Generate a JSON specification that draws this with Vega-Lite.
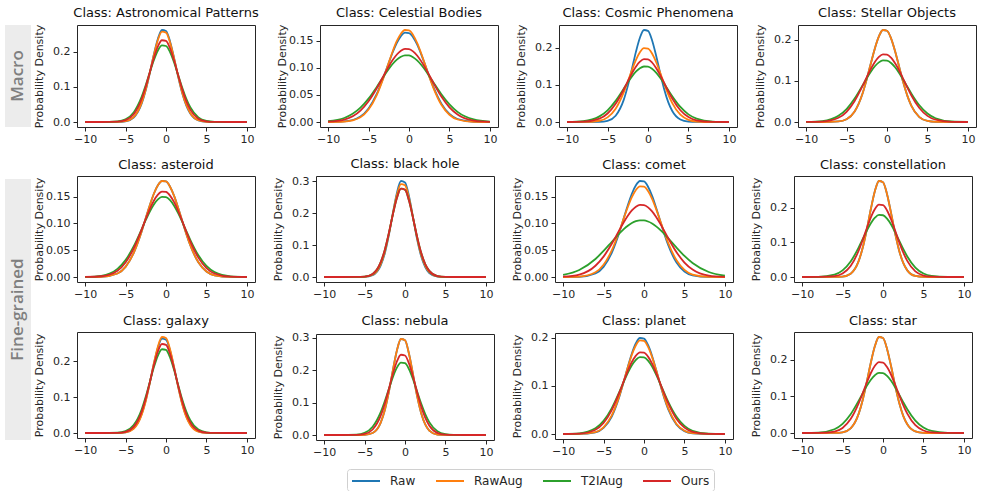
{
"$schema": "https://vega.github.io/schema/vega-lite/v6.json",
"background": "white",
"padding": {"left": 5, "top": 6, "right": 0, "bottom": 0},
"data": {"values": [
{"c":"Astronomical Patterns","x":-10,"Raw":0,"RawAug":0,"T2IAug":0,"Ours":0},
{"c":"Astronomical Patterns","x":-8,"Raw":0,"RawAug":0,"T2IAug":0,"Ours":0},
{"c":"Astronomical Patterns","x":-6,"Raw":0.0002,"RawAug":0.0003,"T2IAug":0.0016,"Ours":0.0008},
{"c":"Astronomical Patterns","x":-5,"Raw":0.0020,"RawAug":0.0024,"T2IAug":0.0077,"Ours":0.0051},
{"c":"Astronomical Patterns","x":-4,"Raw":0.0129,"RawAug":0.0142,"T2IAug":0.0274,"Ours":0.0219},
{"c":"Astronomical Patterns","x":-3,"Raw":0.0531,"RawAug":0.0553,"T2IAug":0.0726,"Ours":0.0663},
{"c":"Astronomical Patterns","x":-2.5,"Raw":0.0911,"RawAug":0.0930,"T2IAug":0.1054,"Ours":0.1015},
{"c":"Astronomical Patterns","x":-2,"Raw":0.1401,"RawAug":0.1407,"T2IAug":0.1418,"Ours":0.1423},
{"c":"Astronomical Patterns","x":-1.5,"Raw":0.1929,"RawAug":0.1915,"T2IAug":0.1767,"Ours":0.1830},
{"c":"Astronomical Patterns","x":-1,"Raw":0.2378,"RawAug":0.2343,"T2IAug":0.2042,"Ours":0.2158},
{"c":"Astronomical Patterns","x":-0.5,"Raw":0.2627,"RawAug":0.2578,"T2IAug":0.2187,"Ours":0.2334},
{"c":"Astronomical Patterns","x":0,"Raw":0.2598,"RawAug":0.2551,"T2IAug":0.2170,"Ours":0.2314},
{"c":"Astronomical Patterns","x":0.5,"Raw":0.2301,"RawAug":0.2270,"T2IAug":0.1996,"Ours":0.2103},
{"c":"Astronomical Patterns","x":1,"Raw":0.1825,"RawAug":0.1816,"T2IAug":0.1701,"Ours":0.1753},
{"c":"Astronomical Patterns","x":1.5,"Raw":0.1297,"RawAug":0.1307,"T2IAug":0.1344,"Ours":0.1340},
{"c":"Astronomical Patterns","x":2,"Raw":0.0825,"RawAug":0.0845,"T2IAug":0.0984,"Ours":0.0939},
{"c":"Astronomical Patterns","x":2.5,"Raw":0.0470,"RawAug":0.0492,"T2IAug":0.0668,"Ours":0.0603},
{"c":"Astronomical Patterns","x":3,"Raw":0.0240,"RawAug":0.0257,"T2IAug":0.0420,"Ours":0.0355},
{"c":"Astronomical Patterns","x":4,"Raw":0.0045,"RawAug":0.0051,"T2IAug":0.0132,"Ours":0.0095},
{"c":"Astronomical Patterns","x":5,"Raw":0.0005,"RawAug":0.0007,"T2IAug":0.0031,"Ours":0.0018},
{"c":"Astronomical Patterns","x":6,"Raw":0,"RawAug":0.0001,"T2IAug":0.0005,"Ours":0.0002},
{"c":"Astronomical Patterns","x":8,"Raw":0,"RawAug":0,"T2IAug":0,"Ours":0},
{"c":"Astronomical Patterns","x":10,"Raw":0,"RawAug":0,"T2IAug":0,"Ours":0},
{"c":"Celestial Bodies","x":-10,"Raw":0.0001,"RawAug":0,"T2IAug":0.0014,"Ours":0.0006},
{"c":"Celestial Bodies","x":-8,"Raw":0.0010,"RawAug":0.0008,"T2IAug":0.0073,"Ours":0.0045},
{"c":"Celestial Bodies","x":-6,"Raw":0.0102,"RawAug":0.0089,"T2IAug":0.0263,"Ours":0.0210},
{"c":"Celestial Bodies","x":-5,"Raw":0.0249,"RawAug":0.0229,"T2IAug":0.0430,"Ours":0.0381},
{"c":"Celestial Bodies","x":-4,"Raw":0.0512,"RawAug":0.0491,"T2IAug":0.0642,"Ours":0.0616},
{"c":"Celestial Bodies","x":-3,"Raw":0.0885,"RawAug":0.0877,"T2IAug":0.0870,"Ours":0.0889},
{"c":"Celestial Bodies","x":-2.5,"Raw":0.1091,"RawAug":0.1095,"T2IAug":0.0977,"Ours":0.1023},
{"c":"Celestial Bodies","x":-2,"Raw":0.1289,"RawAug":0.1308,"T2IAug":0.1072,"Ours":0.1144},
{"c":"Celestial Bodies","x":-1.5,"Raw":0.1459,"RawAug":0.1492,"T2IAug":0.1149,"Ours":0.1243},
{"c":"Celestial Bodies","x":-1,"Raw":0.1582,"RawAug":0.1626,"T2IAug":0.1202,"Ours":0.1313},
{"c":"Celestial Bodies","x":-0.5,"Raw":0.1644,"RawAug":0.1694,"T2IAug":0.1228,"Ours":0.1347},
{"c":"Celestial Bodies","x":0,"Raw":0.1637,"RawAug":0.1686,"T2IAug":0.1225,"Ours":0.1343},
{"c":"Celestial Bodies","x":0.5,"Raw":0.1562,"RawAug":0.1604,"T2IAug":0.1193,"Ours":0.1301},
{"c":"Celestial Bodies","x":1,"Raw":0.1428,"RawAug":0.1458,"T2IAug":0.1135,"Ours":0.1225},
{"c":"Celestial Bodies","x":1.5,"Raw":0.1251,"RawAug":0.1267,"T2IAug":0.1054,"Ours":0.1121},
{"c":"Celestial Bodies","x":2,"Raw":0.1050,"RawAug":0.1052,"T2IAug":0.0957,"Ours":0.0997},
{"c":"Celestial Bodies","x":2.5,"Raw":0.0844,"RawAug":0.0834,"T2IAug":0.0847,"Ours":0.0862},
{"c":"Celestial Bodies","x":3,"Raw":0.0650,"RawAug":0.0633,"T2IAug":0.0733,"Ours":0.0724},
{"c":"Celestial Bodies","x":4,"Raw":0.0339,"RawAug":0.0317,"T2IAug":0.0511,"Ours":0.0468},
{"c":"Celestial Bodies","x":5,"Raw":0.0149,"RawAug":0.0133,"T2IAug":0.0324,"Ours":0.0270},
{"c":"Celestial Bodies","x":6,"Raw":0.0055,"RawAug":0.0046,"T2IAug":0.0186,"Ours":0.0139},
{"c":"Celestial Bodies","x":8,"Raw":0.0005,"RawAug":0.0003,"T2IAug":0.0047,"Ours":0.0026},
{"c":"Celestial Bodies","x":10,"Raw":0,"RawAug":0,"T2IAug":0.0008,"Ours":0.0003},
{"c":"Cosmic Phenomena","x":-10,"Raw":0,"RawAug":0,"T2IAug":0.0002,"Ours":0},
{"c":"Cosmic Phenomena","x":-8,"Raw":0,"RawAug":0.0001,"T2IAug":0.0023,"Ours":0.0008},
{"c":"Cosmic Phenomena","x":-6,"Raw":0.0004,"RawAug":0.0034,"T2IAug":0.0151,"Ours":0.0089},
{"c":"Cosmic Phenomena","x":-5,"Raw":0.0033,"RawAug":0.0125,"T2IAug":0.0315,"Ours":0.0229},
{"c":"Cosmic Phenomena","x":-4,"Raw":0.0170,"RawAug":0.0358,"T2IAug":0.0570,"Ours":0.0491},
{"c":"Cosmic Phenomena","x":-3,"Raw":0.0597,"RawAug":0.0800,"T2IAug":0.0896,"Ours":0.0877},
{"c":"Cosmic Phenomena","x":-2.5,"Raw":0.0967,"RawAug":0.1089,"T2IAug":0.1065,"Ours":0.1095},
{"c":"Cosmic Phenomena","x":-2,"Raw":0.1417,"RawAug":0.1391,"T2IAug":0.1223,"Ours":0.1308},
{"c":"Cosmic Phenomena","x":-1.5,"Raw":0.1884,"RawAug":0.1669,"T2IAug":0.1355,"Ours":0.1492},
{"c":"Cosmic Phenomena","x":-1,"Raw":0.2271,"RawAug":0.1881,"T2IAug":0.1449,"Ours":0.1626},
{"c":"Cosmic Phenomena","x":-0.5,"Raw":0.2480,"RawAug":0.1990,"T2IAug":0.1496,"Ours":0.1694},
{"c":"Cosmic Phenomena","x":0,"Raw":0.2456,"RawAug":0.1978,"T2IAug":0.1490,"Ours":0.1686},
{"c":"Cosmic Phenomena","x":0.5,"Raw":0.2205,"RawAug":0.1845,"T2IAug":0.1434,"Ours":0.1604},
{"c":"Cosmic Phenomena","x":1,"Raw":0.1794,"RawAug":0.1617,"T2IAug":0.1331,"Ours":0.1458},
{"c":"Cosmic Phenomena","x":1.5,"Raw":0.1323,"RawAug":0.1331,"T2IAug":0.1193,"Ours":0.1267},
{"c":"Cosmic Phenomena","x":2,"Raw":0.0885,"RawAug":0.1029,"T2IAug":0.1032,"Ours":0.1052},
{"c":"Cosmic Phenomena","x":2.5,"Raw":0.0536,"RawAug":0.0747,"T2IAug":0.0862,"Ours":0.0834},
{"c":"Cosmic Phenomena","x":3,"Raw":0.0295,"RawAug":0.0509,"T2IAug":0.0695,"Ours":0.0633},
{"c":"Cosmic Phenomena","x":4,"Raw":0.0066,"RawAug":0.0196,"T2IAug":0.0406,"Ours":0.0317},
{"c":"Cosmic Phenomena","x":5,"Raw":0.0010,"RawAug":0.0059,"T2IAug":0.0206,"Ours":0.0133},
{"c":"Cosmic Phenomena","x":6,"Raw":0.0001,"RawAug":0.0014,"T2IAug":0.0091,"Ours":0.0046},
{"c":"Cosmic Phenomena","x":8,"Raw":0,"RawAug":0,"T2IAug":0.0012,"Ours":0.0003},
{"c":"Cosmic Phenomena","x":10,"Raw":0,"RawAug":0,"T2IAug":0.0001,"Ours":0},
{"c":"Stellar Objects","x":-10,"Raw":0,"RawAug":0,"T2IAug":0.0002,"Ours":0.0001},
{"c":"Stellar Objects","x":-8,"Raw":0,"RawAug":0,"T2IAug":0.0023,"Ours":0.0010},
{"c":"Stellar Objects","x":-6,"Raw":0.0013,"RawAug":0.0013,"T2IAug":0.0151,"Ours":0.0102},
{"c":"Stellar Objects","x":-5,"Raw":0.0067,"RawAug":0.0067,"T2IAug":0.0315,"Ours":0.0249},
{"c":"Stellar Objects","x":-4,"Raw":0.0255,"RawAug":0.0255,"T2IAug":0.0570,"Ours":0.0512},
{"c":"Stellar Objects","x":-3,"Raw":0.0706,"RawAug":0.0706,"T2IAug":0.0896,"Ours":0.0885},
{"c":"Stellar Objects","x":-2.5,"Raw":0.1042,"RawAug":0.1042,"T2IAug":0.1065,"Ours":0.1091},
{"c":"Stellar Objects","x":-2,"Raw":0.1421,"RawAug":0.1421,"T2IAug":0.1223,"Ours":0.1289},
{"c":"Stellar Objects","x":-1.5,"Raw":0.1789,"RawAug":0.1789,"T2IAug":0.1355,"Ours":0.1459},
{"c":"Stellar Objects","x":-1,"Raw":0.2081,"RawAug":0.2081,"T2IAug":0.1449,"Ours":0.1582},
{"c":"Stellar Objects","x":-0.5,"Raw":0.2236,"RawAug":0.2236,"T2IAug":0.1496,"Ours":0.1644},
{"c":"Stellar Objects","x":0,"Raw":0.2218,"RawAug":0.2218,"T2IAug":0.1490,"Ours":0.1637},
{"c":"Stellar Objects","x":0.5,"Raw":0.2032,"RawAug":0.2032,"T2IAug":0.1434,"Ours":0.1562},
{"c":"Stellar Objects","x":1,"Raw":0.1720,"RawAug":0.1720,"T2IAug":0.1331,"Ours":0.1428},
{"c":"Stellar Objects","x":1.5,"Raw":0.1344,"RawAug":0.1344,"T2IAug":0.1193,"Ours":0.1251},
{"c":"Stellar Objects","x":2,"Raw":0.0970,"RawAug":0.0970,"T2IAug":0.1032,"Ours":0.1050},
{"c":"Stellar Objects","x":2.5,"Raw":0.0647,"RawAug":0.0647,"T2IAug":0.0862,"Ours":0.0844},
{"c":"Stellar Objects","x":3,"Raw":0.0398,"RawAug":0.0398,"T2IAug":0.0695,"Ours":0.0650},
{"c":"Stellar Objects","x":4,"Raw":0.0119,"RawAug":0.0119,"T2IAug":0.0406,"Ours":0.0339},
{"c":"Stellar Objects","x":5,"Raw":0.0026,"RawAug":0.0026,"T2IAug":0.0206,"Ours":0.0149},
{"c":"Stellar Objects","x":6,"Raw":0.0004,"RawAug":0.0004,"T2IAug":0.0091,"Ours":0.0055},
{"c":"Stellar Objects","x":8,"Raw":0,"RawAug":0,"T2IAug":0.0012,"Ours":0.0005},
{"c":"Stellar Objects","x":10,"Raw":0,"RawAug":0,"T2IAug":0.0001,"Ours":0},
{"c":"asteroid","x":-10,"Raw":0,"RawAug":0,"T2IAug":0.0002,"Ours":0.0001},
{"c":"asteroid","x":-8,"Raw":0.0004,"RawAug":0.0004,"T2IAug":0.0023,"Ours":0.0014},
{"c":"asteroid","x":-6,"Raw":0.0066,"RawAug":0.0066,"T2IAug":0.0151,"Ours":0.0117},
{"c":"asteroid","x":-5,"Raw":0.0190,"RawAug":0.0190,"T2IAug":0.0315,"Ours":0.0271},
{"c":"asteroid","x":-4,"Raw":0.0447,"RawAug":0.0447,"T2IAug":0.0570,"Ours":0.0532},
{"c":"asteroid","x":-3,"Raw":0.0857,"RawAug":0.0857,"T2IAug":0.0896,"Ours":0.0890},
{"c":"asteroid","x":-2.5,"Raw":0.1100,"RawAug":0.1100,"T2IAug":0.1065,"Ours":0.1084},
{"c":"asteroid","x":-2,"Raw":0.1341,"RawAug":0.1341,"T2IAug":0.1223,"Ours":0.1268},
{"c":"asteroid","x":-1.5,"Raw":0.1555,"RawAug":0.1555,"T2IAug":0.1355,"Ours":0.1425},
{"c":"asteroid","x":-1,"Raw":0.1712,"RawAug":0.1712,"T2IAug":0.1449,"Ours":0.1538},
{"c":"asteroid","x":-0.5,"Raw":0.1793,"RawAug":0.1793,"T2IAug":0.1496,"Ours":0.1595},
{"c":"asteroid","x":0,"Raw":0.1784,"RawAug":0.1784,"T2IAug":0.1490,"Ours":0.1588},
{"c":"asteroid","x":0.5,"Raw":0.1686,"RawAug":0.1686,"T2IAug":0.1434,"Ours":0.1520},
{"c":"asteroid","x":1,"Raw":0.1516,"RawAug":0.1516,"T2IAug":0.1331,"Ours":0.1397},
{"c":"asteroid","x":1.5,"Raw":0.1294,"RawAug":0.1294,"T2IAug":0.1193,"Ours":0.1233},
{"c":"asteroid","x":2,"Raw":0.1051,"RawAug":0.1051,"T2IAug":0.1032,"Ours":0.1046},
{"c":"asteroid","x":2.5,"Raw":0.0810,"RawAug":0.0810,"T2IAug":0.0862,"Ours":0.0852},
{"c":"asteroid","x":3,"Raw":0.0594,"RawAug":0.0594,"T2IAug":0.0695,"Ours":0.0666},
{"c":"asteroid","x":4,"Raw":0.0274,"RawAug":0.0274,"T2IAug":0.0406,"Ours":0.0362},
{"c":"asteroid","x":5,"Raw":0.0103,"RawAug":0.0103,"T2IAug":0.0206,"Ours":0.0167},
{"c":"asteroid","x":6,"Raw":0.0032,"RawAug":0.0032,"T2IAug":0.0091,"Ours":0.0066},
{"c":"asteroid","x":8,"Raw":0.0002,"RawAug":0.0002,"T2IAug":0.0012,"Ours":0.0006},
{"c":"asteroid","x":10,"Raw":0,"RawAug":0,"T2IAug":0.0001,"Ours":0},
{"c":"black hole","x":-10,"Raw":0,"RawAug":0,"T2IAug":0,"Ours":0},
{"c":"black hole","x":-8,"Raw":0,"RawAug":0,"T2IAug":0,"Ours":0},
{"c":"black hole","x":-6,"Raw":0,"RawAug":0,"T2IAug":0.0001,"Ours":0.0001},
{"c":"black hole","x":-5,"Raw":0.0005,"RawAug":0.0007,"T2IAug":0.0012,"Ours":0.0012},
{"c":"black hole","x":-4,"Raw":0.0056,"RawAug":0.0070,"T2IAug":0.0096,"Ours":0.0096},
{"c":"black hole","x":-3,"Raw":0.0362,"RawAug":0.0402,"T2IAug":0.0465,"Ours":0.0465},
{"c":"black hole","x":-2.5,"Raw":0.0741,"RawAug":0.0785,"T2IAug":0.0850,"Ours":0.0850},
{"c":"black hole","x":-2,"Raw":0.1311,"RawAug":0.1339,"T2IAug":0.1374,"Ours":0.1374},
{"c":"black hole","x":-1.5,"Raw":0.2002,"RawAug":0.1990,"T2IAug":0.1964,"Ours":0.1964},
{"c":"black hole","x":-1,"Raw":0.2643,"RawAug":0.2580,"T2IAug":0.2482,"Ours":0.2482},
{"c":"black hole","x":-0.5,"Raw":0.3015,"RawAug":0.2918,"T2IAug":0.2773,"Ours":0.2773},
{"c":"black hole","x":0,"Raw":0.2971,"RawAug":0.2878,"T2IAug":0.2739,"Ours":0.2739},
{"c":"black hole","x":0.5,"Raw":0.2530,"RawAug":0.2476,"T2IAug":0.2392,"Ours":0.2392},
{"c":"black hole","x":1,"Raw":0.1861,"RawAug":0.1858,"T2IAug":0.1847,"Ours":0.1847},
{"c":"black hole","x":1.5,"Raw":0.1183,"RawAug":0.1217,"T2IAug":0.1261,"Ours":0.1261},
{"c":"black hole","x":2,"Raw":0.0650,"RawAug":0.0695,"T2IAug":0.0761,"Ours":0.0761},
{"c":"black hole","x":2.5,"Raw":0.0309,"RawAug":0.0346,"T2IAug":0.0406,"Ours":0.0406},
{"c":"black hole","x":3,"Raw":0.0127,"RawAug":0.0150,"T2IAug":0.0192,"Ours":0.0192},
{"c":"black hole","x":4,"Raw":0.0014,"RawAug":0.0019,"T2IAug":0.0029,"Ours":0.0029},
{"c":"black hole","x":5,"Raw":0.0001,"RawAug":0.0001,"T2IAug":0.0003,"Ours":0.0003},
{"c":"black hole","x":6,"Raw":0,"RawAug":0,"T2IAug":0,"Ours":0},
{"c":"black hole","x":8,"Raw":0,"RawAug":0,"T2IAug":0,"Ours":0},
{"c":"black hole","x":10,"Raw":0,"RawAug":0,"T2IAug":0,"Ours":0},
{"c":"comet","x":-10,"Raw":0,"RawAug":0,"T2IAug":0.0038,"Ours":0.0006},
{"c":"comet","x":-8,"Raw":0.0004,"RawAug":0.0008,"T2IAug":0.0131,"Ours":0.0045},
{"c":"comet","x":-6,"Raw":0.0066,"RawAug":0.0089,"T2IAug":0.0337,"Ours":0.0210},
{"c":"comet","x":-5,"Raw":0.0190,"RawAug":0.0229,"T2IAug":0.0486,"Ours":0.0381},
{"c":"comet","x":-4,"Raw":0.0447,"RawAug":0.0491,"T2IAug":0.0654,"Ours":0.0616},
{"c":"comet","x":-3,"Raw":0.0857,"RawAug":0.0877,"T2IAug":0.0819,"Ours":0.0889},
{"c":"comet","x":-2.5,"Raw":0.1100,"RawAug":0.1095,"T2IAug":0.0894,"Ours":0.1023},
{"c":"comet","x":-2,"Raw":0.1341,"RawAug":0.1308,"T2IAug":0.0957,"Ours":0.1144},
{"c":"comet","x":-1.5,"Raw":0.1555,"RawAug":0.1492,"T2IAug":0.1007,"Ours":0.1243},
{"c":"comet","x":-1,"Raw":0.1712,"RawAug":0.1626,"T2IAug":0.1042,"Ours":0.1313},
{"c":"comet","x":-0.5,"Raw":0.1793,"RawAug":0.1694,"T2IAug":0.1059,"Ours":0.1347},
{"c":"comet","x":0,"Raw":0.1784,"RawAug":0.1686,"T2IAug":0.1057,"Ours":0.1343},
{"c":"comet","x":0.5,"Raw":0.1686,"RawAug":0.1604,"T2IAug":0.1036,"Ours":0.1301},
{"c":"comet","x":1,"Raw":0.1516,"RawAug":0.1458,"T2IAug":0.0999,"Ours":0.1225},
{"c":"comet","x":1.5,"Raw":0.1294,"RawAug":0.1267,"T2IAug":0.0945,"Ours":0.1121},
{"c":"comet","x":2,"Raw":0.1051,"RawAug":0.1052,"T2IAug":0.0879,"Ours":0.0997},
{"c":"comet","x":2.5,"Raw":0.0810,"RawAug":0.0834,"T2IAug":0.0804,"Ours":0.0862},
{"c":"comet","x":3,"Raw":0.0594,"RawAug":0.0633,"T2IAug":0.0722,"Ours":0.0724},
{"c":"comet","x":4,"Raw":0.0274,"RawAug":0.0317,"T2IAug":0.0552,"Ours":0.0468},
{"c":"comet","x":5,"Raw":0.0103,"RawAug":0.0133,"T2IAug":0.0393,"Ours":0.0270},
{"c":"comet","x":6,"Raw":0.0032,"RawAug":0.0046,"T2IAug":0.0261,"Ours":0.0139},
{"c":"comet","x":8,"Raw":0.0002,"RawAug":0.0003,"T2IAug":0.0093,"Ours":0.0026},
{"c":"comet","x":10,"Raw":0,"RawAug":0,"T2IAug":0.0025,"Ours":0.0003},
{"c":"constellation","x":-10,"Raw":0,"RawAug":0,"T2IAug":0,"Ours":0},
{"c":"constellation","x":-8,"Raw":0,"RawAug":0,"T2IAug":0.0004,"Ours":0.0001},
{"c":"constellation","x":-6,"Raw":0.0001,"RawAug":0.0001,"T2IAug":0.0066,"Ours":0.0023},
{"c":"constellation","x":-5,"Raw":0.0012,"RawAug":0.0012,"T2IAug":0.0190,"Ours":0.0098},
{"c":"constellation","x":-4,"Raw":0.0096,"RawAug":0.0096,"T2IAug":0.0447,"Ours":0.0315},
{"c":"constellation","x":-3,"Raw":0.0465,"RawAug":0.0465,"T2IAug":0.0857,"Ours":0.0765},
{"c":"constellation","x":-2.5,"Raw":0.0850,"RawAug":0.0850,"T2IAug":0.1100,"Ours":0.1074},
{"c":"constellation","x":-2,"Raw":0.1374,"RawAug":0.1374,"T2IAug":0.1341,"Ours":0.1407},
{"c":"constellation","x":-1.5,"Raw":0.1964,"RawAug":0.1964,"T2IAug":0.1555,"Ours":0.1720},
{"c":"constellation","x":-1,"Raw":0.2482,"RawAug":0.2482,"T2IAug":0.1712,"Ours":0.1962},
{"c":"constellation","x":-0.5,"Raw":0.2773,"RawAug":0.2773,"T2IAug":0.1793,"Ours":0.2088},
{"c":"constellation","x":0,"Raw":0.2739,"RawAug":0.2739,"T2IAug":0.1784,"Ours":0.2074},
{"c":"constellation","x":0.5,"Raw":0.2392,"RawAug":0.2392,"T2IAug":0.1686,"Ours":0.1922},
{"c":"constellation","x":1,"Raw":0.1847,"RawAug":0.1847,"T2IAug":0.1516,"Ours":0.1662},
{"c":"constellation","x":1.5,"Raw":0.1261,"RawAug":0.1261,"T2IAug":0.1294,"Ours":0.1341},
{"c":"constellation","x":2,"Raw":0.0761,"RawAug":0.0761,"T2IAug":0.1051,"Ours":0.1009},
{"c":"constellation","x":2.5,"Raw":0.0406,"RawAug":0.0406,"T2IAug":0.0810,"Ours":0.0709},
{"c":"constellation","x":3,"Raw":0.0192,"RawAug":0.0192,"T2IAug":0.0594,"Ours":0.0465},
{"c":"constellation","x":4,"Raw":0.0029,"RawAug":0.0029,"T2IAug":0.0274,"Ours":0.0162},
{"c":"constellation","x":5,"Raw":0.0003,"RawAug":0.0003,"T2IAug":0.0103,"Ours":0.0043},
{"c":"constellation","x":6,"Raw":0,"RawAug":0,"T2IAug":0.0032,"Ours":0.0009},
{"c":"constellation","x":8,"Raw":0,"RawAug":0,"T2IAug":0.0002,"Ours":0},
{"c":"constellation","x":10,"Raw":0,"RawAug":0,"T2IAug":0,"Ours":0},
{"c":"galaxy","x":-10,"Raw":0,"RawAug":0,"T2IAug":0,"Ours":0},
{"c":"galaxy","x":-8,"Raw":0,"RawAug":0,"T2IAug":0,"Ours":0},
{"c":"galaxy","x":-6,"Raw":0.0002,"RawAug":0.0002,"T2IAug":0.0008,"Ours":0.0004},
{"c":"galaxy","x":-5,"Raw":0.0020,"RawAug":0.0017,"T2IAug":0.0051,"Ours":0.0033},
{"c":"galaxy","x":-4,"Raw":0.0129,"RawAug":0.0117,"T2IAug":0.0219,"Ours":0.0170},
{"c":"galaxy","x":-3,"Raw":0.0531,"RawAug":0.0508,"T2IAug":0.0663,"Ours":0.0597},
{"c":"galaxy","x":-2.5,"Raw":0.0911,"RawAug":0.0891,"T2IAug":0.1015,"Ours":0.0967},
{"c":"galaxy","x":-2,"Raw":0.1401,"RawAug":0.1393,"T2IAug":0.1423,"Ours":0.1417},
{"c":"galaxy","x":-1.5,"Raw":0.1929,"RawAug":0.1942,"T2IAug":0.1830,"Ours":0.1884},
{"c":"galaxy","x":-1,"Raw":0.2378,"RawAug":0.2413,"T2IAug":0.2158,"Ours":0.2271},
{"c":"galaxy","x":-0.5,"Raw":0.2627,"RawAug":0.2675,"T2IAug":0.2334,"Ours":0.2480},
{"c":"galaxy","x":0,"Raw":0.2598,"RawAug":0.2645,"T2IAug":0.2314,"Ours":0.2456},
{"c":"galaxy","x":0.5,"Raw":0.2301,"RawAug":0.2332,"T2IAug":0.2103,"Ours":0.2205},
{"c":"galaxy","x":1,"Raw":0.1825,"RawAug":0.1833,"T2IAug":0.1753,"Ours":0.1794},
{"c":"galaxy","x":1.5,"Raw":0.1297,"RawAug":0.1286,"T2IAug":0.1340,"Ours":0.1323},
{"c":"galaxy","x":2,"Raw":0.0825,"RawAug":0.0804,"T2IAug":0.0939,"Ours":0.0885},
{"c":"galaxy","x":2.5,"Raw":0.0470,"RawAug":0.0448,"T2IAug":0.0603,"Ours":0.0536},
{"c":"galaxy","x":3,"Raw":0.0240,"RawAug":0.0223,"T2IAug":0.0355,"Ours":0.0295},
{"c":"galaxy","x":4,"Raw":0.0045,"RawAug":0.0039,"T2IAug":0.0095,"Ours":0.0066},
{"c":"galaxy","x":5,"Raw":0.0005,"RawAug":0.0004,"T2IAug":0.0018,"Ours":0.0010},
{"c":"galaxy","x":6,"Raw":0,"RawAug":0,"T2IAug":0.0002,"Ours":0.0001},
{"c":"galaxy","x":8,"Raw":0,"RawAug":0,"T2IAug":0,"Ours":0},
{"c":"galaxy","x":10,"Raw":0,"RawAug":0,"T2IAug":0,"Ours":0},
{"c":"nebula","x":-10,"Raw":0,"RawAug":0,"T2IAug":0,"Ours":0},
{"c":"nebula","x":-8,"Raw":0,"RawAug":0,"T2IAug":0,"Ours":0},
{"c":"nebula","x":-6,"Raw":0,"RawAug":0,"T2IAug":0.0013,"Ours":0.0004},
{"c":"nebula","x":-5,"Raw":0.0006,"RawAug":0.0006,"T2IAug":0.0067,"Ours":0.0033},
{"c":"nebula","x":-4,"Raw":0.0063,"RawAug":0.0063,"T2IAug":0.0255,"Ours":0.0170},
{"c":"nebula","x":-3,"Raw":0.0382,"RawAug":0.0382,"T2IAug":0.0706,"Ours":0.0597},
{"c":"nebula","x":-2.5,"Raw":0.0764,"RawAug":0.0764,"T2IAug":0.1042,"Ours":0.0967},
{"c":"nebula","x":-2,"Raw":0.1325,"RawAug":0.1325,"T2IAug":0.1421,"Ours":0.1417},
{"c":"nebula","x":-1.5,"Raw":0.1997,"RawAug":0.1997,"T2IAug":0.1789,"Ours":0.1884},
{"c":"nebula","x":-1,"Raw":0.2612,"RawAug":0.2612,"T2IAug":0.2081,"Ours":0.2271},
{"c":"nebula","x":-0.5,"Raw":0.2966,"RawAug":0.2966,"T2IAug":0.2236,"Ours":0.2480},
{"c":"nebula","x":0,"Raw":0.2925,"RawAug":0.2925,"T2IAug":0.2218,"Ours":0.2456},
{"c":"nebula","x":0.5,"Raw":0.2503,"RawAug":0.2503,"T2IAug":0.2032,"Ours":0.2205},
{"c":"nebula","x":1,"Raw":0.1860,"RawAug":0.1860,"T2IAug":0.1720,"Ours":0.1794},
{"c":"nebula","x":1.5,"Raw":0.1200,"RawAug":0.1200,"T2IAug":0.1344,"Ours":0.1323},
{"c":"nebula","x":2,"Raw":0.0672,"RawAug":0.0672,"T2IAug":0.0970,"Ours":0.0885},
{"c":"nebula","x":2.5,"Raw":0.0327,"RawAug":0.0327,"T2IAug":0.0647,"Ours":0.0536},
{"c":"nebula","x":3,"Raw":0.0138,"RawAug":0.0138,"T2IAug":0.0398,"Ours":0.0295},
{"c":"nebula","x":4,"Raw":0.0016,"RawAug":0.0016,"T2IAug":0.0119,"Ours":0.0066},
{"c":"nebula","x":5,"Raw":0.0001,"RawAug":0.0001,"T2IAug":0.0026,"Ours":0.0010},
{"c":"nebula","x":6,"Raw":0,"RawAug":0,"T2IAug":0.0004,"Ours":0.0001},
{"c":"nebula","x":8,"Raw":0,"RawAug":0,"T2IAug":0,"Ours":0},
{"c":"nebula","x":10,"Raw":0,"RawAug":0,"T2IAug":0,"Ours":0},
{"c":"planet","x":-10,"Raw":0,"RawAug":0,"T2IAug":0.0001,"Ours":0},
{"c":"planet","x":-8,"Raw":0.0001,"RawAug":0.0002,"T2IAug":0.0014,"Ours":0.0008},
{"c":"planet","x":-6,"Raw":0.0034,"RawAug":0.0040,"T2IAug":0.0117,"Ours":0.0089},
{"c":"planet","x":-5,"Raw":0.0125,"RawAug":0.0139,"T2IAug":0.0271,"Ours":0.0229},
{"c":"planet","x":-4,"Raw":0.0358,"RawAug":0.0380,"T2IAug":0.0532,"Ours":0.0491},
{"c":"planet","x":-3,"Raw":0.0800,"RawAug":0.0816,"T2IAug":0.0890,"Ours":0.0877},
{"c":"planet","x":-2.5,"Raw":0.1089,"RawAug":0.1094,"T2IAug":0.1084,"Ours":0.1095},
{"c":"planet","x":-2,"Raw":0.1391,"RawAug":0.1381,"T2IAug":0.1268,"Ours":0.1308},
{"c":"planet","x":-1.5,"Raw":0.1669,"RawAug":0.1642,"T2IAug":0.1425,"Ours":0.1492},
{"c":"planet","x":-1,"Raw":0.1881,"RawAug":0.1839,"T2IAug":0.1538,"Ours":0.1626},
{"c":"planet","x":-0.5,"Raw":0.1990,"RawAug":0.1941,"T2IAug":0.1595,"Ours":0.1694},
{"c":"planet","x":0,"Raw":0.1978,"RawAug":0.1929,"T2IAug":0.1588,"Ours":0.1686},
{"c":"planet","x":0.5,"Raw":0.1845,"RawAug":0.1806,"T2IAug":0.1520,"Ours":0.1604},
{"c":"planet","x":1,"Raw":0.1617,"RawAug":0.1594,"T2IAug":0.1397,"Ours":0.1458},
{"c":"planet","x":1.5,"Raw":0.1331,"RawAug":0.1324,"T2IAug":0.1233,"Ours":0.1267},
{"c":"planet","x":2,"Raw":0.1029,"RawAug":0.1037,"T2IAug":0.1046,"Ours":0.1052},
{"c":"planet","x":2.5,"Raw":0.0747,"RawAug":0.0764,"T2IAug":0.0852,"Ours":0.0834},
{"c":"planet","x":3,"Raw":0.0509,"RawAug":0.0531,"T2IAug":0.0666,"Ours":0.0633},
{"c":"planet","x":4,"Raw":0.0196,"RawAug":0.0214,"T2IAug":0.0362,"Ours":0.0317},
{"c":"planet","x":5,"Raw":0.0059,"RawAug":0.0068,"T2IAug":0.0167,"Ours":0.0133},
{"c":"planet","x":6,"Raw":0.0014,"RawAug":0.0017,"T2IAug":0.0066,"Ours":0.0046},
{"c":"planet","x":8,"Raw":0,"RawAug":0.0001,"T2IAug":0.0006,"Ours":0.0003},
{"c":"planet","x":10,"Raw":0,"RawAug":0,"T2IAug":0,"Ours":0},
{"c":"star","x":-10,"Raw":0,"RawAug":0,"T2IAug":0.0001,"Ours":0},
{"c":"star","x":-8,"Raw":0,"RawAug":0,"T2IAug":0.0010,"Ours":0.0002},
{"c":"star","x":-6,"Raw":0.0002,"RawAug":0.0002,"T2IAug":0.0102,"Ours":0.0040},
{"c":"star","x":-5,"Raw":0.0020,"RawAug":0.0020,"T2IAug":0.0249,"Ours":0.0139},
{"c":"star","x":-4,"Raw":0.0129,"RawAug":0.0129,"T2IAug":0.0512,"Ours":0.0380},
{"c":"star","x":-3,"Raw":0.0531,"RawAug":0.0531,"T2IAug":0.0885,"Ours":0.0816},
{"c":"star","x":-2.5,"Raw":0.0911,"RawAug":0.0911,"T2IAug":0.1091,"Ours":0.1094},
{"c":"star","x":-2,"Raw":0.1401,"RawAug":0.1401,"T2IAug":0.1289,"Ours":0.1381},
{"c":"star","x":-1.5,"Raw":0.1929,"RawAug":0.1929,"T2IAug":0.1459,"Ours":0.1642},
{"c":"star","x":-1,"Raw":0.2378,"RawAug":0.2378,"T2IAug":0.1582,"Ours":0.1839},
{"c":"star","x":-0.5,"Raw":0.2627,"RawAug":0.2627,"T2IAug":0.1644,"Ours":0.1941},
{"c":"star","x":0,"Raw":0.2598,"RawAug":0.2598,"T2IAug":0.1637,"Ours":0.1929},
{"c":"star","x":0.5,"Raw":0.2301,"RawAug":0.2301,"T2IAug":0.1562,"Ours":0.1806},
{"c":"star","x":1,"Raw":0.1825,"RawAug":0.1825,"T2IAug":0.1428,"Ours":0.1594},
{"c":"star","x":1.5,"Raw":0.1297,"RawAug":0.1297,"T2IAug":0.1251,"Ours":0.1324},
{"c":"star","x":2,"Raw":0.0825,"RawAug":0.0825,"T2IAug":0.1050,"Ours":0.1037},
{"c":"star","x":2.5,"Raw":0.0470,"RawAug":0.0470,"T2IAug":0.0844,"Ours":0.0764},
{"c":"star","x":3,"Raw":0.0240,"RawAug":0.0240,"T2IAug":0.0650,"Ours":0.0531},
{"c":"star","x":4,"Raw":0.0045,"RawAug":0.0045,"T2IAug":0.0339,"Ours":0.0214},
{"c":"star","x":5,"Raw":0.0005,"RawAug":0.0005,"T2IAug":0.0149,"Ours":0.0068},
{"c":"star","x":6,"Raw":0,"RawAug":0,"T2IAug":0.0055,"Ours":0.0017},
{"c":"star","x":8,"Raw":0,"RawAug":0,"T2IAug":0.0005,"Ours":0.0001},
{"c":"star","x":10,"Raw":0,"RawAug":0,"T2IAug":0,"Ours":0}
]},
"config": {
  "font": "DejaVu Sans",
  "view": {"stroke": "#262626", "strokeWidth": 1},
  "axis": {"grid": false, "domain": false, "tickColor": "#262626", "tickSize": 4, "labelFontSize": 11, "labelColor": "#262626", "titleFontSize": 11, "titleFontWeight": "normal", "titleColor": "#262626", "labelFont": "DejaVu Sans", "titleFont": "DejaVu Sans"},
  "axisX": {"labelPadding": 2, "labelFlush": false},
  "axisY": {"labelPadding": 3, "titlePadding": 3, "minExtent": 30, "maxExtent": 30},
  "header": {"labelFontSize": 13, "labelColor": "#111111", "labelPadding": 4, "labelFont": "DejaVu Sans"}
},
"spacing": 1,
"hconcat": [
  {"vconcat": [
    {"title": {"text": " ", "fontSize": 13, "offset": 4, "font": "DejaVu Sans"},
     "width": 26, "height": 102,
     "view": {"fill": "#ececec", "stroke": null},
     "data": {"values": [{"t": "Macro"}]},
     "mark": {"type": "text", "angle": 270, "align": "center", "baseline": "middle", "font": "Open Sans", "fontWeight": 600, "fontSize": 17, "color": "#7f7f7f"},
     "encoding": {
       "text": {"field": "t", "type": "nominal"},
       "x": {"datum": 0.5, "type": "quantitative", "scale": {"domain": [0, 1]}, "axis": null},
       "y": {"datum": 0.5, "type": "quantitative", "scale": {"domain": [0, 1]}, "axis": null}}},
    {"width": 26, "height": 261,
     "view": {"fill": "#ececec", "stroke": null},
     "data": {"values": [{"t": "Fine-grained"}]},
     "mark": {"type": "text", "angle": 270, "align": "center", "baseline": "middle", "font": "Open Sans", "fontWeight": 600, "fontSize": 17, "color": "#7f7f7f"},
     "encoding": {
       "text": {"field": "t", "type": "nominal"},
       "x": {"datum": 0.5, "type": "quantitative", "scale": {"domain": [0, 1]}, "axis": null},
       "y": {"datum": 0.5, "type": "quantitative", "scale": {"domain": [0, 1]}, "axis": null}}}
  ], "spacing": 52},
  {"vconcat": [
    {"transform": [
       {"filter": {"field": "c", "oneOf": ["Astronomical Patterns", "Celestial Bodies", "Cosmic Phenomena", "Stellar Objects"]}},
       {"fold": ["Raw", "RawAug", "T2IAug", "Ours"], "as": ["s", "y"]}],
     "facet": {"field": "c", "type": "nominal", "sort": ["Astronomical Patterns", "Celestial Bodies", "Cosmic Phenomena", "Stellar Objects"], "header": {"title": null, "labelExpr": "'Class: ' + datum.value"}},
     "columns": 4,
     "spacing": {"row": 14, "column": 15},
     "resolve": {"scale": {"y": "independent"}, "axis": {"x": "independent", "y": "independent"}},
     "spec": {"width": 178, "height": 102,
       "mark": {"type": "line", "interpolate": "monotone", "strokeWidth": 1.8},
       "encoding": {
         "x": {"field": "x", "type": "quantitative", "scale": {"domain": [-11, 11], "nice": false}, "axis": {"values": [-10, -5, 0, 5, 10], "title": null}},
         "y": {"field": "y", "type": "quantitative", "scale": {"zero": false, "nice": false, "padding": 5}, "axis": {"title": "Probability Density", "tickCount": 3}},
         "color": {"field": "s", "type": "nominal", "scale": {"domain": ["Raw", "RawAug", "T2IAug", "Ours"], "range": ["#1f77b4", "#ff7f0e", "#2ca02c", "#d62728"]},
           "legend": {"title": null, "orient": "none", "legendX": 342, "legendY": 444, "direction": "horizontal", "symbolType": "M-1,0H3", "symbolSize": 196, "symbolStrokeWidth": 2, "labelFontSize": 12, "labelFont": "DejaVu Sans", "labelColor": "#262626", "labelOffset": 23, "columnPadding": 16, "padding": 4, "strokeColor": "#d0d0d0", "cornerRadius": 3, "fillColor": "white"}}
       }}},
    {"transform": [
       {"filter": {"field": "c", "oneOf": ["asteroid", "black hole", "comet", "constellation", "galaxy", "nebula", "planet", "star"]}},
       {"fold": ["Raw", "RawAug", "T2IAug", "Ours"], "as": ["s", "y"]}],
     "facet": {"field": "c", "type": "nominal", "sort": ["asteroid", "black hole", "comet", "constellation", "galaxy", "nebula", "planet", "star"], "header": {"title": null, "labelExpr": "'Class: ' + datum.value"}},
     "columns": 4,
     "spacing": {"row": 14, "column": 15},
     "resolve": {"scale": {"y": "independent"}, "axis": {"x": "independent", "y": "independent"}},
     "spec": {"width": 178, "height": 106,
       "mark": {"type": "line", "interpolate": "monotone", "strokeWidth": 1.8},
       "encoding": {
         "x": {"field": "x", "type": "quantitative", "scale": {"domain": [-11, 11], "nice": false}, "axis": {"values": [-10, -5, 0, 5, 10], "title": null}},
         "y": {"field": "y", "type": "quantitative", "scale": {"zero": false, "nice": false, "padding": 5}, "axis": {"title": "Probability Density", "tickCount": 3}},
         "color": {"field": "s", "type": "nominal", "scale": {"domain": ["Raw", "RawAug", "T2IAug", "Ours"], "range": ["#1f77b4", "#ff7f0e", "#2ca02c", "#d62728"]},
           "legend": {"title": null, "orient": "none", "legendX": 342, "legendY": 444, "direction": "horizontal", "symbolType": "M-1,0H3", "symbolSize": 196, "symbolStrokeWidth": 2, "labelFontSize": 12, "labelFont": "DejaVu Sans", "labelColor": "#262626", "labelOffset": 23, "columnPadding": 16, "padding": 4, "strokeColor": "#d0d0d0", "cornerRadius": 3, "fillColor": "white"}}
       }}}
  ], "spacing": 12}
]
}
